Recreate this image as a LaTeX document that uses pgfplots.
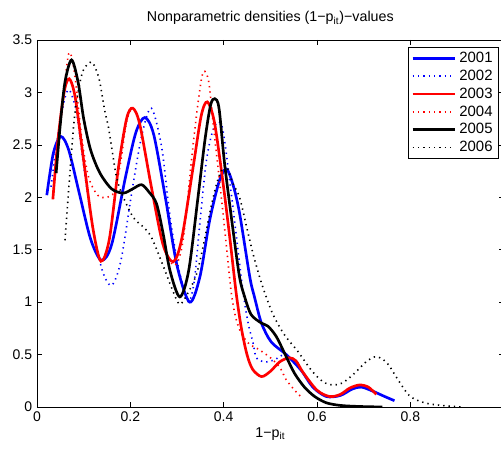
\documentclass[border=0pt]{standalone}
\usepackage{fontspec}
\setmainfont{Liberation Sans}
\usepackage{pgfplots}
\pgfplotsset{compat=1.18}
\begin{document}
\fontsize{10.5}{12.6}\selectfont
\begin{tikzpicture}
\useasboundingbox (-27.75pt,-31.5pt) rectangle (348pt,305.25pt);
\begin{axis}[
  at={(0pt,0pt)}, anchor=south west,
  scale only axis, width=350pt, height=275.25pt,
  xmin=0, xmax=1, ymin=0, ymax=3.5,
  xtick={0,0.2,0.4,0.6,0.8,1}, xticklabels={0,0.2,0.4,0.6,0.8,},
  ytick={0,0.5,1,1.5,2,2.5,3,3.5},
  yticklabels={0,0.5,1,1.5,2,2.5,3,3.5},
  tick align=inside, major tick length=3.5pt,
  tick style={black, line width=0.5pt},
  axis line style={line width=0.6pt},
  every tick label/.append style={font=\fontsize{10.5}{12.6}\selectfont},
  every axis title shift=0pt,
  title={Nonparametric densities (1−p\textsubscript{it})−values},
  title style={at={(0.5,1)}, anchor=base, yshift=13.5pt, font=\fontsize{10.7}{12.8}\selectfont},
  xlabel={1−p\textsubscript{it}},
  xlabel style={at={(0.5,0)}, anchor=base, yshift=-23pt, font=\fontsize{10.7}{12.8}\selectfont},
  legend style={at={(rel axis cs:0.990,0.981)}, anchor=north east, draw=black, line width=0.6pt,
    font=\fontsize{11.2}{13.4}\selectfont, row sep=0pt, inner xsep=2.5pt, inner ysep=1.5pt},
  legend cell align=left,
  legend image code/.code={\draw[#1] (0pt,0pt) -- (32pt,0pt);},
  every axis plot/.append style={smooth},
]
% 2001
\addplot[blue, line width=2pt] coordinates {
(0.021,2.02) (0.035,2.42) (0.051,2.58) (0.068,2.45) (0.09,2.05) (0.115,1.6) (0.138,1.40)
(0.16,1.55) (0.19,2.2) (0.212,2.62) (0.231,2.76) (0.25,2.6) (0.275,2.0) (0.30,1.35)
(0.327,1.00) (0.349,1.24) (0.37,1.78) (0.391,2.16) (0.406,2.27) (0.42,2.12) (0.434,1.85)
(0.456,1.24) (0.466,1.05) (0.481,0.80) (0.502,0.62) (0.534,0.50) (0.566,0.35) (0.591,0.19)
(0.62,0.10) (0.65,0.11) (0.675,0.17) (0.695,0.19) (0.72,0.15) (0.745,0.10) (0.766,0.06)};
% 2002
\addplot[blue, line width=1.2pt, dash pattern=on 1pt off 3pt] coordinates {
(0.03,2.1) (0.045,2.6) (0.06,2.95) (0.07,3.02) (0.085,2.8) (0.10,2.3) (0.12,1.7) (0.14,1.3)
(0.16,1.16) (0.18,1.4) (0.205,2.1) (0.225,2.6) (0.245,2.85) (0.267,2.48) (0.284,1.85)
(0.30,1.4) (0.313,1.15) (0.325,1.0) (0.337,1.2) (0.35,1.8) (0.363,2.35) (0.377,2.64)
(0.39,2.72) (0.40,2.6) (0.42,1.9) (0.44,1.15) (0.452,0.81) (0.463,0.61) (0.47,0.47)
(0.488,0.43) (0.509,0.45) (0.534,0.50) (0.566,0.35) (0.591,0.19) (0.62,0.10) (0.65,0.11)
(0.675,0.17) (0.695,0.19) (0.72,0.15)};
% 2003
\addplot[red, line width=2pt] coordinates {
(0.034,1.98) (0.045,2.55) (0.058,3.0) (0.069,3.13) (0.082,2.95) (0.10,2.35) (0.12,1.7)
(0.137,1.39) (0.155,1.6) (0.175,2.3) (0.192,2.75) (0.205,2.85) (0.22,2.7) (0.245,2.1)
(0.27,1.55) (0.292,1.385) (0.31,1.6) (0.335,2.3) (0.352,2.78) (0.365,2.91) (0.38,2.72)
(0.398,2.16) (0.413,1.62) (0.427,1.08) (0.438,0.75) (0.45,0.5) (0.462,0.36) (0.481,0.29)
(0.50,0.34) (0.52,0.43) (0.54,0.47) (0.555,0.44) (0.57,0.33) (0.60,0.16) (0.627,0.10)
(0.65,0.12) (0.67,0.18) (0.691,0.21) (0.71,0.19) (0.727,0.12)};
% 2004
\addplot[red, line width=1.2pt, dash pattern=on 1pt off 3pt] coordinates {
(0.04,2.35) (0.054,2.86) (0.068,3.37) (0.08,3.2) (0.095,2.6) (0.11,2.2) (0.13,2.02)
(0.15,2.0) (0.165,2.05) (0.178,2.3) (0.192,2.72) (0.205,2.85) (0.22,2.7) (0.245,2.1)
(0.27,1.55) (0.295,1.35) (0.313,1.59) (0.334,2.48) (0.348,3.0) (0.357,3.2) (0.368,3.1)
(0.38,2.6) (0.395,2.0) (0.406,1.53) (0.416,1.1) (0.426,0.85) (0.438,0.70) (0.455,0.6)
(0.475,0.55) (0.50,0.47) (0.52,0.38) (0.534,0.26) (0.552,0.16) (0.565,0.10)};
% 2005
\addplot[black, line width=2pt] coordinates {
(0.041,2.23) (0.05,2.7) (0.06,3.1) (0.074,3.31) (0.088,3.1) (0.10,2.75) (0.115,2.45)
(0.135,2.23) (0.16,2.08) (0.185,2.04) (0.205,2.08) (0.224,2.12) (0.24,2.05) (0.256,1.94)
(0.27,1.66) (0.285,1.3) (0.306,1.05) (0.325,1.3) (0.345,2.0) (0.36,2.55) (0.372,2.88)
(0.381,2.94) (0.39,2.85) (0.402,2.32) (0.42,1.69) (0.434,1.24) (0.445,1.05) (0.459,0.88)
(0.481,0.80) (0.495,0.77) (0.513,0.67) (0.534,0.48) (0.552,0.32) (0.573,0.19) (0.595,0.10)
(0.62,0.04) (0.65,0.015) (0.69,0.005) (0.74,0.0)};
% 2006
\addplot[black, line width=1.2pt, dash pattern=on 1pt off 3pt] coordinates {
(0.06,1.59) (0.07,2.2) (0.08,2.75) (0.09,3.05) (0.10,3.22) (0.117,3.29) (0.128,3.2)
(0.135,3.09) (0.145,2.83) (0.153,2.67) (0.163,2.39) (0.17,2.2) (0.181,2.04) (0.206,1.81)
(0.227,1.72) (0.245,1.62) (0.27,1.35) (0.29,1.12) (0.306,0.98) (0.325,1.1) (0.342,1.27)
(0.356,1.53) (0.375,1.95) (0.39,2.2) (0.405,2.3) (0.42,2.13) (0.434,2.0) (0.449,1.72)
(0.463,1.46) (0.477,1.24) (0.488,1.09) (0.506,0.88) (0.530,0.69) (0.559,0.53) (0.588,0.35)
(0.613,0.24) (0.635,0.21) (0.655,0.23) (0.68,0.32) (0.705,0.43) (0.727,0.48) (0.75,0.42)
(0.775,0.25) (0.80,0.10) (0.84,0.03) (0.91,0.0)};
\legend{2001,2002,2003,2004,2005,2006}
\end{axis}
\end{tikzpicture}
\end{document}
